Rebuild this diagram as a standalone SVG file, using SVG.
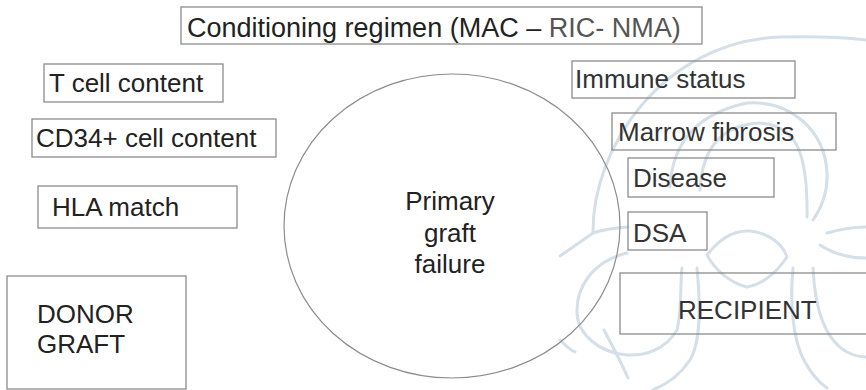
<svg xmlns="http://www.w3.org/2000/svg" width="866" height="390" viewBox="0 0 866 390">
<style>
.wm{fill:none;stroke:#d4dfe8;stroke-width:3;stroke-linecap:round}
.box{fill:none;stroke:#8c8c8c;stroke-width:1.3}
.t{font-family:"Liberation Sans",Arial,sans-serif;font-size:26px;fill:#222}
.g{fill:#555}
</style>
<rect width="866" height="390" fill="#fff"/>
<g id="watermark">
<path class="wm" d="M593,233 C592,150 660,42 780,37 C820,36 850,38 866,40"/>
<path class="wm" d="M670,187 C672,150 690,115 747,103 C790,100 825,130 827,173 C828,195 820,210 813,220"/>
<path class="wm" d="M700,190 C702,150 720,125 760,123 C795,125 808,150 807,217"/>
<path class="wm" d="M560,256 L593,233 C605,229 615,228 628,227"/>
<path class="wm" d="M707,255 C720,238 735,230 750,231 C770,233 783,245 787,257 C775,275 760,285 747,287 C730,283 715,270 707,255 Z"/>
<path class="wm" d="M827,233 C845,228 858,227 866,227"/>
<path class="wm" d="M820,245 C835,255 850,258 866,258"/>
<path class="wm" d="M627,253 C590,262 576,290 577,313 C578,335 600,353 627,355 C645,356 665,350 677,330 C682,310 680,285 682,268"/>
<path class="wm" d="M697,268 C700,300 702,340 690,360 C680,375 665,385 653,390"/>
<path class="wm" d="M793,268 C790,300 792,340 805,362 C812,375 820,383 827,388"/>
<path class="wm" d="M813,268 C815,310 825,340 847,352 C855,356 860,357 866,357"/>
<path class="wm" d="M560,340 C565,345 570,350 575,352"/>
<path class="wm" d="M604,330 C612,345 620,360 628,378"/>
</g>
<g id="connectors"></g>
<g id="conditioning">
<rect class="box" x="181" y="7" width="521" height="37"/>
<text class="t" x="187" y="37" style="font-size:27px">Conditioning regimen (MAC – <tspan class="g">RIC- NMA)</tspan></text>
</g>
<g id="tcell">
<rect class="box" x="44" y="64" width="179" height="38"/>
<text class="t" x="49" y="92">T cell content</text>
</g>
<g id="cd34">
<rect class="box" x="32" y="119" width="244" height="38"/>
<text class="t" x="36" y="147">CD34+ cell content</text>
</g>
<g id="hla">
<rect class="box" x="38" y="186" width="199" height="42"/>
<text class="t" x="52" y="216">HLA match</text>
</g>
<g id="donor">
<rect class="box" x="7" y="276" width="179" height="113"/>
<text class="t" x="37" y="323">DONOR</text>
<text class="t" x="37" y="353">GRAFT</text>
</g>
<g id="pgf">
<ellipse cx="452" cy="226" rx="168" ry="152" fill="none" stroke="#8c8c8c" stroke-width="1.2"/>
<text class="t" x="450" y="210" text-anchor="middle">Primary</text>
<text class="t" x="450" y="242" text-anchor="middle">graft</text>
<text class="t" x="450" y="273" text-anchor="middle">failure</text>
</g>
<g id="immune">
<rect class="box" x="572" y="61" width="223" height="37"/>
<text class="t" x="575" y="88" style="fill:#333">Immune status</text>
</g>
<g id="marrow">
<rect class="box" x="612" y="113" width="224" height="37"/>
<text class="t" x="618" y="141" style="fill:#333">Marrow fibrosis</text>
</g>
<g id="disease">
<rect class="box" x="628" y="158" width="146" height="39"/>
<text class="t" x="633" y="187" style="fill:#333">Disease</text>
</g>
<g id="dsa">
<rect class="box" x="628" y="212" width="79" height="38"/>
<text class="t" x="633" y="242" style="fill:#333">DSA</text>
</g>
<g id="recipient">
<rect class="box" x="620" y="273" width="250" height="61"/>
<text class="t" x="678" y="319" style="fill:#333">RECIPIENT</text>
</g>
</svg>
